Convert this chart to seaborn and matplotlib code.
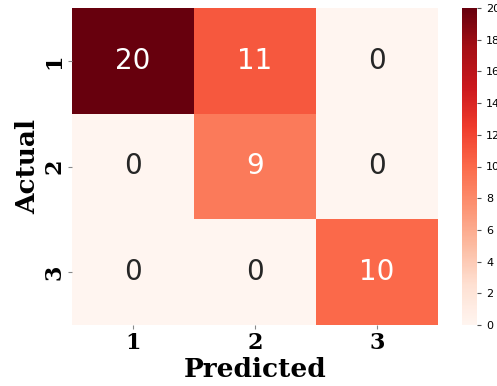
import numpy as np
import matplotlib
matplotlib.use("Agg")
import matplotlib.pyplot as plt
import seaborn as sns

labels = ["1", "2", "3"]
row1 = [20, 11, 0]
row2 = [0, 9, 0]
row3 = [0, 0, 10]
cm = np.array([row1, row2, row3])

fig = plt.figure(figsize=(4.97, 3.86), dpi=100)
ax = fig.add_axes([72/497, 1-325/386, (438-72)/497, (325-8)/386])
cax = fig.add_axes([462/497, 1-325/386, (477-462)/497, (325-8)/386])

sns.heatmap(cm, annot=True, fmt="d", cmap="Reds", ax=ax, cbar_ax=cax,
            xticklabels=labels, yticklabels=labels,
            annot_kws={"size": 20}, vmin=0, vmax=20)

cax.set_yticks(range(0, 21, 2))
cax.tick_params(labelsize=8, length=3, color="#555555")
ax.tick_params(length=3, pad=2, color="#888888", width=0.8)

for lab in ax.get_xticklabels() + ax.get_yticklabels():
    lab.set_fontfamily("DejaVu Serif")
    lab.set_fontweight("bold")
    lab.set_fontsize(16)
plt.setp(ax.get_yticklabels(), rotation=90, va="center")
ax.set_xlabel("Predicted", fontsize=19, fontweight="bold", family="DejaVu Serif", labelpad=2)
ax.set_ylabel("Actual", fontsize=19, fontweight="bold", family="DejaVu Serif", labelpad=2)

fig.savefig("out.png", dpi=100)
